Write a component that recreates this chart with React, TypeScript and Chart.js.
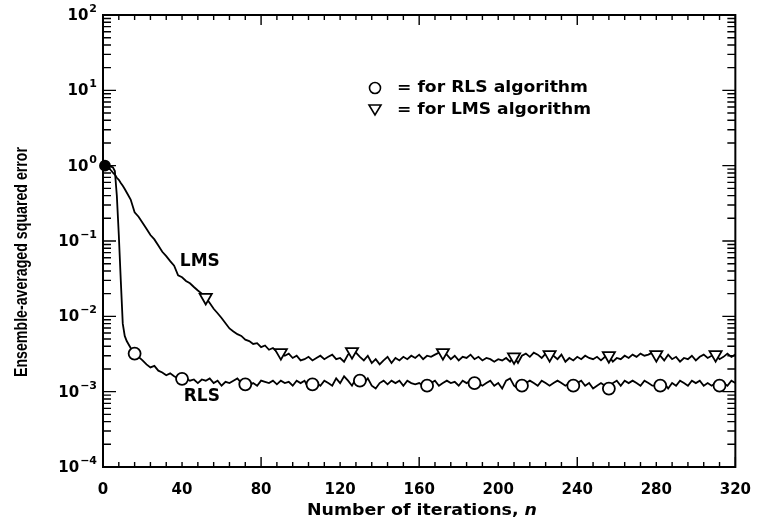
import { useEffect, useRef } from 'react';
import { Chart, registerables } from 'chart.js';

Chart.register(...registerables);

// Iteration numbers n (shared by both curves)
const N = [
  1, 2, 3, 4, 5, 6, 7, 8, 9, 10, 11, 12,
  14, 16, 18, 20, 22, 24, 26, 28, 30, 32, 34, 36, 38, 40,
  42, 44, 46, 48, 50, 52, 54, 56, 58, 60, 62, 64, 66, 68, 70, 72, 74, 76, 78, 80, 82, 84, 86, 88, 90, 92, 94, 96, 98, 100,
  102, 104, 106, 108, 110, 112, 114, 116, 118, 120, 122, 124, 126, 128, 130, 132, 134, 136, 138, 140, 142, 144, 146, 148, 150, 152, 154, 156, 158, 160,
  162, 164, 166, 168, 170, 172, 174, 176, 178, 180, 182, 184, 186, 188, 190, 192, 194, 196, 198, 200, 202, 204, 206, 208, 210, 212, 214, 216, 218, 220,
  222, 224, 226, 228, 230, 232, 234, 236, 238, 240, 242, 244, 246, 248, 250, 252, 254, 256, 258, 260, 262, 264, 266, 268, 270, 272, 274, 276, 278, 280,
  282, 284, 286, 288, 290, 292, 294, 296, 298, 300, 302, 304, 306, 308, 310, 312, 314, 316, 318, 320,
];

// Ensemble-averaged squared error, RLS algorithm
const RLS_ERR = [
  1.0, 0.99, 0.98, 0.97, 0.95, 0.85, 0.4, 0.12, 0.03, 0.008, 0.0055, 0.0047,
  0.0038, 0.0032, 0.0029, 0.0026, 0.0023, 0.0021, 0.0022, 0.0019, 0.0018, 0.00165, 0.00175, 0.0016, 0.0015, 0.00148,
  0.0015, 0.0014, 0.00145, 0.0013, 0.00145, 0.0014, 0.0015, 0.0013, 0.0014, 0.0012,
  0.00135, 0.0013, 0.0014, 0.0015, 0.0013, 0.00125, 0.00122, 0.0013, 0.0012, 0.0014,
  0.00135, 0.0013, 0.0014, 0.00125, 0.0014, 0.0013, 0.00135, 0.0012, 0.0014, 0.0013,
  0.0014, 0.0011, 0.00125, 0.0013, 0.0012, 0.0014, 0.0013, 0.0012, 0.0015, 0.0013,
  0.0016, 0.0014, 0.0012, 0.0015, 0.0014, 0.0013, 0.0015, 0.0012, 0.0011, 0.0013,
  0.0014, 0.00125, 0.0014, 0.0013, 0.0014, 0.0012, 0.0014, 0.0013, 0.00125, 0.0013,
  0.0012, 0.0012, 0.0013, 0.0014, 0.0012, 0.0013, 0.0014, 0.0013, 0.00135, 0.0012,
  0.0014, 0.0013, 0.0014, 0.0013, 0.0013, 0.0012, 0.0013, 0.0014, 0.0012, 0.0013,
  0.0011, 0.0014, 0.0015, 0.0012, 0.0011, 0.0012, 0.0013, 0.0014, 0.0013, 0.0012,
  0.0014, 0.0013, 0.0012, 0.0013, 0.0014, 0.0013, 0.0012, 0.0013, 0.0012, 0.0013,
  0.0014, 0.0012, 0.0013, 0.0011, 0.0012, 0.0013, 0.0012, 0.0011, 0.0013, 0.0014,
  0.0012, 0.0014, 0.0013, 0.0014, 0.0013, 0.0012, 0.0014, 0.0013, 0.0012, 0.0012,
  0.0012, 0.0013, 0.0011, 0.0013, 0.0012, 0.0014, 0.0013, 0.0012, 0.0014, 0.0013,
  0.0014, 0.0012, 0.0013, 0.0012, 0.0013, 0.0012, 0.0013, 0.0012, 0.0014, 0.0013,
];

// Ensemble-averaged squared error, LMS algorithm
const LMS_ERR = [
  1.0, 0.98, 0.93, 0.87, 0.81, 0.76, 0.69, 0.65, 0.59, 0.54, 0.49, 0.44,
  0.355, 0.24, 0.21, 0.175, 0.145, 0.12, 0.105, 0.087, 0.072, 0.063, 0.054, 0.047, 0.035, 0.033,
  0.0295, 0.0275, 0.0245, 0.022, 0.02, 0.0178, 0.015, 0.0126, 0.011, 0.0095,
  0.0081, 0.0069, 0.0063, 0.0058, 0.0055, 0.0049, 0.0047, 0.0043, 0.0044, 0.0039,
  0.0041, 0.0036, 0.0038, 0.0034, 0.0033, 0.003, 0.0032, 0.0028, 0.003, 0.0026,
  0.0027, 0.0029, 0.0026, 0.0028, 0.003, 0.0027, 0.0029, 0.0031, 0.0027, 0.0028,
  0.0025, 0.0031, 0.0034, 0.0033, 0.0029, 0.0026, 0.003, 0.0024, 0.0027, 0.0023,
  0.0026, 0.0029, 0.0024, 0.0028, 0.0026, 0.0029, 0.0027, 0.003, 0.0028, 0.0031,
  0.0027, 0.003, 0.0029, 0.0031, 0.0033, 0.0033, 0.0031, 0.0027, 0.003, 0.0026,
  0.0029, 0.0028, 0.0031, 0.0027, 0.0029, 0.0026, 0.0028, 0.0027, 0.0025, 0.0027,
  0.0026, 0.0028, 0.0025, 0.0029, 0.0024, 0.003, 0.0032, 0.0029, 0.0033, 0.0031,
  0.0028, 0.0032, 0.0031, 0.003, 0.0027, 0.0031, 0.0025, 0.0028, 0.0026, 0.0029,
  0.0027, 0.003, 0.0028, 0.0027, 0.0029, 0.0026, 0.0029, 0.003, 0.0025, 0.0028,
  0.0027, 0.003, 0.0028, 0.0031, 0.0029, 0.0032, 0.003, 0.0031, 0.0033, 0.0031,
  0.003, 0.0026, 0.0031, 0.0027, 0.0029, 0.0025, 0.0028, 0.0027, 0.003, 0.0026,
  0.0029, 0.0031, 0.0028, 0.003, 0.0031, 0.0027, 0.0029, 0.0032, 0.0029, 0.0031,
];

// Iterations at which the curves carry a marker
const RLS_MARKER_N = [1, 16, 40, 72, 106, 130, 164, 188, 212, 238, 256, 282, 312];
const LMS_MARKER_N = [52, 90, 126, 172, 208, 226, 256, 280, 310];

// Axes
const X_MIN = 0;
const X_MAX = 320;
const X_LABEL_STEP = 40;
const X_MINOR_STEP = 8;
const X_MAJOR_STEP = 80;
const Y_DECADES = [1e-4, 1e-3, 1e-2, 1e-1, 1, 10, 100];
const Y_TICK_BASE = '10';
const Y_TICK_EXPONENTS = ['\u2212' + '4', '\u2212' + '3', '\u2212' + '2', '\u2212' + '1', '0', '1', '2'];

// Texts
const X_TITLE = 'Number of iterations, ';
const X_TITLE_VAR = 'n';
const Y_TITLE = 'Ensemble-averaged squared error';
const LEGEND_TEXTS = ['= for RLS algorithm', '= for LMS algorithm'];
const CURVE_NAMES = ['LMS', 'RLS'];
const CURVE_NAME_AT_N = [49, 50];
const CURVE_NAME_AT_ERR = [0.053, 0.00087];

const FONT = '"DejaVu Sans", "Liberation Sans", sans-serif';

function stretchedText(ctx: CanvasRenderingContext2D, text: string, x: number, y: number, width: number) {
  const w = ctx.measureText(text).width;
  ctx.save();
  ctx.translate(x, y);
  ctx.scale(width / w, 1);
  ctx.fillText(text, 0, 0);
  ctx.restore();
}

const decorPlugin = {
  id: 'decor',
  afterDraw(chart: any) {
    const { ctx, chartArea: a, scales } = chart;
    const xs = scales.x;
    const ys = scales.y;
    ctx.save();
    ctx.strokeStyle = '#000';
    ctx.fillStyle = '#000';

    // inward tick marks on all four sides
    ctx.lineWidth = 1.4;
    ctx.beginPath();
    for (let e = -4; e <= 2; e++) {
      for (let m = 1; m <= 9; m++) {
        if (e === 2 && m > 1) break;
        const py = ys.getPixelForValue(m * Math.pow(10, e));
        const len = m === 1 ? 13 : 8;
        ctx.moveTo(a.left, py);
        ctx.lineTo(a.left + len, py);
        ctx.moveTo(a.right, py);
        ctx.lineTo(a.right - len, py);
      }
    }
    for (let n = X_MIN; n <= X_MAX; n += X_MINOR_STEP) {
      const px = xs.getPixelForValue(n);
      const len = n % X_MAJOR_STEP === 0 ? 10 : 5;
      ctx.moveTo(px, a.bottom);
      ctx.lineTo(px, a.bottom - len);
      ctx.moveTo(px, a.top);
      ctx.lineTo(px, a.top + len);
    }
    ctx.stroke();

    // frame
    ctx.lineWidth = 2;
    ctx.strokeRect(a.left, a.top, a.right - a.left, a.bottom - a.top);

    // y tick labels with superscript exponents
    ctx.textBaseline = 'middle';
    ctx.textAlign = 'right';
    const labelRight = a.left - 6;
    Y_DECADES.forEach((v, i) => {
      const py = ys.getPixelForValue(v);
      ctx.font = `bold 11px ${FONT}`;
      const ew = ctx.measureText(Y_TICK_EXPONENTS[i]).width;
      ctx.fillText(Y_TICK_EXPONENTS[i], labelRight, py - 6);
      ctx.font = `bold 15px ${FONT}`;
      ctx.fillText(Y_TICK_BASE, labelRight - ew - 1, py + 1);
    });

    // curve names
    ctx.font = `bold 17px ${FONT}`;
    ctx.textAlign = 'center';
    ctx.textBaseline = 'middle';
    CURVE_NAMES.forEach((t, i) => {
      ctx.fillText(t, xs.getPixelForValue(CURVE_NAME_AT_N[i]), ys.getPixelForValue(CURVE_NAME_AT_ERR[i]));
    });

    // legend
    ctx.lineWidth = 1.6;
    ctx.beginPath();
    ctx.arc(375, 88, 5.5, 0, Math.PI * 2);
    ctx.stroke();
    ctx.beginPath();
    ctx.moveTo(369, 105);
    ctx.lineTo(381, 105);
    ctx.lineTo(375, 115);
    ctx.closePath();
    ctx.stroke();
    ctx.font = `bold 15px ${FONT}`;
    ctx.textAlign = 'left';
    ctx.textBaseline = 'middle';
    stretchedText(ctx, LEGEND_TEXTS[0], 397, 88, 191);
    stretchedText(ctx, LEGEND_TEXTS[1], 397, 110, 194);

    // x title with italic n
    ctx.textBaseline = 'alphabetic';
    ctx.font = `bold 15px ${FONT}`;
    const w1 = ctx.measureText(X_TITLE).width;
    ctx.font = `bold italic 15px ${FONT}`;
    const w2 = ctx.measureText(X_TITLE_VAR).width;
    const s = 230 / (w1 + w2);
    ctx.save();
    ctx.translate(307, 515);
    ctx.scale(s, 1);
    ctx.font = `bold 15px ${FONT}`;
    ctx.fillText(X_TITLE, 0, 0);
    ctx.font = `bold italic 15px ${FONT}`;
    ctx.fillText(X_TITLE_VAR, w1, 0);
    ctx.restore();

    // y title (condensed)
    ctx.save();
    ctx.translate(27, 262);
    ctx.rotate(-Math.PI / 2);
    ctx.font = `bold 18px "Liberation Sans", Arial, sans-serif`;
    ctx.textAlign = 'center';
    ctx.textBaseline = 'alphabetic';
    const wy = ctx.measureText(Y_TITLE).width;
    ctx.scale(230 / wy, 1);
    ctx.fillText(Y_TITLE, 0, 0);
    ctx.restore();

    ctx.restore();
  },
};

export default function App() {
  const ref = useRef<HTMLCanvasElement | null>(null);

  useEffect(() => {
    document.body.style.margin = '0';
    const canvas = ref.current;
    if (!canvas) return;

    const rlsData = N.map((n, i) => ({ x: n, y: RLS_ERR[i] }));
    const lmsData = N.map((n, i) => ({ x: n, y: LMS_ERR[i] }));

    const chart = new Chart(canvas, {
      type: 'line',
      data: {
        datasets: [
          {
            label: 'RLS',
            data: rlsData,
            borderColor: '#000',
            borderWidth: 1.8,
            tension: 0,
            clip: false,
            pointStyle: 'circle',
            pointRadius: (c: any) => (RLS_MARKER_N.includes(N[c.dataIndex]) ? (c.dataIndex === 0 ? 5 : 6) : 0),
            pointBackgroundColor: (c: any) => (c.dataIndex === 0 ? '#000' : '#fff'),
            pointBorderColor: '#000',
            pointBorderWidth: 1.8,
          },
          {
            label: 'LMS',
            data: lmsData,
            borderColor: '#000',
            borderWidth: 1.8,
            tension: 0,
            clip: false,
            pointStyle: 'triangle',
            rotation: 180,
            pointRadius: (c: any) => (LMS_MARKER_N.includes(N[c.dataIndex]) ? 7 : 0),
            pointBackgroundColor: '#fff',
            pointBorderColor: '#000',
            pointBorderWidth: 1.8,
          },
        ],
      },
      options: {
        responsive: false,
        animation: false,
        devicePixelRatio: 1,
        layout: { padding: { top: 15, right: 14, left: 0, bottom: 0 } },
        plugins: { legend: { display: false }, tooltip: { enabled: false } },
        scales: {
          x: {
            type: 'linear',
            min: X_MIN,
            max: X_MAX,
            grid: { display: false, drawTicks: false },
            border: { display: false },
            ticks: {
              stepSize: X_LABEL_STEP,
              color: '#000',
              padding: 14,
              maxRotation: 0,
              font: { family: FONT, size: 15, weight: 'bold' },
            },
            afterFit: (scale: any) => {
              scale.height = 50;
            },
          },
          y: {
            type: 'logarithmic',
            min: Y_DECADES[0],
            max: Y_DECADES[Y_DECADES.length - 1],
            grid: { display: false, drawTicks: false },
            border: { display: false },
            afterBuildTicks: (scale: any) => {
              scale.ticks = Y_DECADES.map((v) => ({ value: v, major: true }));
            },
            ticks: { display: false },
            afterFit: (scale: any) => {
              scale.width = 103;
            },
          },
        },
      },
      plugins: [decorPlugin],
    } as any);

    return () => chart.destroy();
  }, []);

  return (
    <div style={{ width: 765, height: 517, background: '#fff' }}>
      <canvas ref={ref} width={765} height={517} style={{ display: 'block' }} />
    </div>
  );
}
